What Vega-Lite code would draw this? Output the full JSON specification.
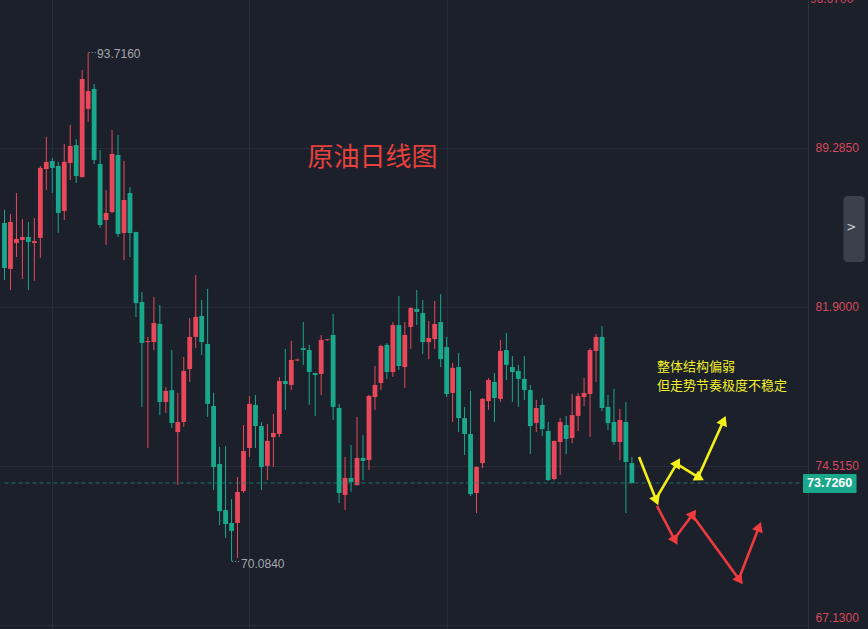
{
  "$schema": "https://vega.github.io/schema/vega-lite/v6.json",
  "width": 808,
  "height": 629,
  "autosize": {"type": "none"},
  "padding": {"left": 0, "top": 0, "right": 60, "bottom": 0},
  "background": "#1b202b",
  "config": {"view": {"stroke": null, "fill": "#1b202b"}},
  "datasets": {
    "candles": [
      {"i":0,"o":85.80,"h":86.41,"l":83.15,"c":83.71},
      {"i":1,"o":83.67,"h":86.22,"l":82.69,"c":85.85},
      {"i":2,"o":84.87,"h":87.19,"l":84.22,"c":85.06},
      {"i":3,"o":85.01,"h":85.99,"l":83.20,"c":85.15},
      {"i":4,"o":85.15,"h":85.85,"l":82.69,"c":84.92},
      {"i":5,"o":84.87,"h":86.03,"l":83.11,"c":84.96},
      {"i":6,"o":85.11,"h":88.45,"l":84.18,"c":88.36},
      {"i":7,"o":88.31,"h":89.80,"l":87.33,"c":88.64},
      {"i":8,"o":88.68,"h":88.82,"l":87.19,"c":88.36},
      {"i":9,"o":88.45,"h":88.64,"l":85.34,"c":86.27},
      {"i":10,"o":86.36,"h":89.47,"l":85.94,"c":88.64},
      {"i":11,"o":88.59,"h":90.35,"l":87.80,"c":89.38},
      {"i":12,"o":89.42,"h":89.70,"l":87.66,"c":87.98},
      {"i":13,"o":87.94,"h":92.91,"l":87.90,"c":92.49},
      {"i":14,"o":91.10,"h":93.716,"l":90.49,"c":91.93},
      {"i":15,"o":92.03,"h":92.26,"l":88.54,"c":88.73},
      {"i":16,"o":88.54,"h":89.19,"l":85.57,"c":85.71},
      {"i":17,"o":85.94,"h":87.33,"l":84.78,"c":86.27},
      {"i":18,"o":86.31,"h":90.12,"l":86.25,"c":89.01},
      {"i":19,"o":88.96,"h":89.89,"l":85.15,"c":85.29},
      {"i":20,"o":85.34,"h":88.68,"l":84.08,"c":86.87},
      {"i":21,"o":87.19,"h":87.47,"l":84.22,"c":85.34},
      {"i":22,"o":85.38,"h":85.40,"l":81.44,"c":82.08},
      {"i":23,"o":82.13,"h":82.60,"l":77.26,"c":80.23},
      {"i":24,"o":80.27,"h":80.51,"l":75.35,"c":80.32},
      {"i":25,"o":80.27,"h":82.36,"l":79.90,"c":81.16},
      {"i":26,"o":81.11,"h":81.99,"l":76.88,"c":77.49},
      {"i":27,"o":77.49,"h":78.18,"l":76.98,"c":78.00},
      {"i":28,"o":78.04,"h":79.90,"l":76.28,"c":76.51},
      {"i":29,"o":76.09,"h":77.91,"l":73.63,"c":76.56},
      {"i":30,"o":76.56,"h":79.58,"l":76.33,"c":78.93},
      {"i":31,"o":79.02,"h":81.39,"l":78.42,"c":80.51},
      {"i":32,"o":80.51,"h":83.39,"l":79.99,"c":81.44},
      {"i":33,"o":81.48,"h":82.23,"l":79.67,"c":80.27},
      {"i":34,"o":80.18,"h":82.74,"l":76.79,"c":77.40},
      {"i":35,"o":77.30,"h":77.91,"l":73.40,"c":74.47},
      {"i":36,"o":74.61,"h":75.40,"l":71.77,"c":72.42},
      {"i":37,"o":72.47,"h":75.44,"l":71.17,"c":71.82},
      {"i":38,"o":71.87,"h":72.98,"l":70.084,"c":71.50},
      {"i":39,"o":71.87,"h":74.00,"l":70.24,"c":73.31},
      {"i":40,"o":73.35,"h":76.42,"l":73.26,"c":75.21},
      {"i":41,"o":75.35,"h":77.77,"l":74.93,"c":77.40},
      {"i":42,"o":77.35,"h":77.81,"l":75.35,"c":76.37},
      {"i":43,"o":76.37,"h":76.56,"l":73.40,"c":74.47},
      {"i":44,"o":74.52,"h":76.47,"l":73.86,"c":75.68},
      {"i":45,"o":75.86,"h":76.93,"l":74.47,"c":76.05},
      {"i":46,"o":76.00,"h":78.65,"l":75.86,"c":78.46},
      {"i":47,"o":78.46,"h":79.95,"l":77.12,"c":78.32},
      {"i":48,"o":78.28,"h":80.32,"l":78.04,"c":79.44},
      {"i":49,"o":79.42,"h":79.50,"l":79.38,"c":79.46},
      {"i":50,"o":79.99,"h":81.20,"l":79.21,"c":79.90},
      {"i":51,"o":79.90,"h":80.14,"l":77.35,"c":78.88},
      {"i":52,"o":78.83,"h":78.83,"l":76.84,"c":78.74},
      {"i":53,"o":78.79,"h":80.60,"l":77.81,"c":80.37},
      {"i":54,"o":80.36,"h":80.42,"l":80.33,"c":80.40},
      {"i":55,"o":80.60,"h":81.57,"l":76.65,"c":77.26},
      {"i":56,"o":77.21,"h":77.40,"l":72.80,"c":73.26},
      {"i":57,"o":73.17,"h":74.93,"l":72.47,"c":73.96},
      {"i":58,"o":73.96,"h":75.49,"l":73.31,"c":73.77},
      {"i":59,"o":73.63,"h":76.79,"l":73.60,"c":74.89},
      {"i":60,"o":74.89,"h":75.96,"l":73.86,"c":74.75},
      {"i":61,"o":74.79,"h":77.81,"l":74.33,"c":77.77},
      {"i":62,"o":77.72,"h":79.16,"l":77.12,"c":78.28},
      {"i":63,"o":78.37,"h":80.14,"l":78.04,"c":80.09},
      {"i":64,"o":80.14,"h":80.23,"l":78.56,"c":78.88},
      {"i":65,"o":78.88,"h":81.20,"l":78.65,"c":81.06},
      {"i":66,"o":81.06,"h":82.41,"l":78.97,"c":79.16},
      {"i":67,"o":79.11,"h":81.20,"l":78.14,"c":80.60},
      {"i":68,"o":80.97,"h":81.90,"l":79.95,"c":81.85},
      {"i":69,"o":81.81,"h":82.69,"l":81.06,"c":81.67},
      {"i":70,"o":81.62,"h":82.23,"l":79.72,"c":80.27},
      {"i":71,"o":80.27,"h":81.25,"l":79.48,"c":80.46},
      {"i":72,"o":80.41,"h":82.18,"l":79.95,"c":81.11},
      {"i":73,"o":81.20,"h":82.50,"l":79.11,"c":79.48},
      {"i":74,"o":80.04,"h":80.51,"l":77.72,"c":77.86},
      {"i":75,"o":77.91,"h":79.30,"l":76.56,"c":79.07},
      {"i":76,"o":79.11,"h":79.76,"l":76.09,"c":76.74},
      {"i":77,"o":76.74,"h":77.26,"l":75.03,"c":76.00},
      {"i":78,"o":76.00,"h":78.00,"l":73.12,"c":73.21},
      {"i":79,"o":73.26,"h":74.50,"l":72.33,"c":74.47},
      {"i":80,"o":74.65,"h":77.67,"l":74.42,"c":77.63},
      {"i":81,"o":77.53,"h":78.60,"l":77.12,"c":78.51},
      {"i":82,"o":78.42,"h":78.83,"l":76.56,"c":77.67},
      {"i":83,"o":77.63,"h":80.37,"l":77.49,"c":79.86},
      {"i":84,"o":79.90,"h":80.69,"l":78.51,"c":79.21},
      {"i":85,"o":79.11,"h":79.62,"l":77.49,"c":78.88},
      {"i":86,"o":78.93,"h":79.21,"l":77.26,"c":78.56},
      {"i":87,"o":78.56,"h":79.62,"l":77.58,"c":78.04},
      {"i":88,"o":78.04,"h":78.28,"l":75.07,"c":76.37},
      {"i":89,"o":76.51,"h":77.58,"l":76.09,"c":77.21},
      {"i":90,"o":77.35,"h":77.67,"l":75.91,"c":76.23},
      {"i":91,"o":76.14,"h":76.56,"l":73.82,"c":73.86},
      {"i":92,"o":73.91,"h":75.70,"l":73.85,"c":75.68},
      {"i":93,"o":75.63,"h":76.74,"l":74.10,"c":76.56},
      {"i":94,"o":76.42,"h":76.84,"l":75.07,"c":75.77},
      {"i":95,"o":75.82,"h":77.86,"l":75.58,"c":76.88},
      {"i":96,"o":76.84,"h":77.91,"l":76.14,"c":77.77},
      {"i":97,"o":77.72,"h":78.60,"l":77.30,"c":77.91},
      {"i":98,"o":77.86,"h":79.99,"l":75.86,"c":79.90},
      {"i":99,"o":79.86,"h":80.65,"l":78.42,"c":80.51},
      {"i":100,"o":80.51,"h":81.02,"l":77.07,"c":77.21},
      {"i":101,"o":77.26,"h":77.81,"l":76.19,"c":76.51},
      {"i":102,"o":76.56,"h":78.09,"l":75.49,"c":75.63},
      {"i":103,"o":75.63,"h":77.16,"l":74.79,"c":76.65},
      {"i":104,"o":76.56,"h":77.49,"l":72.33,"c":74.70},
      {"i":105,"o":74.65,"h":74.93,"l":73.70,"c":73.726}
    ],
    "arrows": [
      {"g":"yellow","x0":106.2,"y0":74.93,"x1":109.0,"y1":72.98,"heading":158},
      {"g":"yellow","x0":109.0,"y0":72.98,"x1":112.5,"y1":74.61,"heading":31},
      {"g":"yellow","x0":112.5,"y0":74.61,"x1":116.1,"y1":74.0,"heading":119},
      {"g":"yellow","x0":116.1,"y0":74.0,"x1":120.25,"y1":76.56,"heading":24},
      {"g":"red","x0":109.2,"y0":72.66,"x1":112.1,"y1":71.12,"heading":151},
      {"g":"red","x0":112.1,"y0":71.12,"x1":115.1,"y1":72.24,"heading":37},
      {"g":"red","x0":115.1,"y0":72.24,"x1":122.9,"y1":69.27,"heading":144},
      {"g":"red","x0":122.9,"y0":69.27,"x1":126.2,"y1":71.63,"heading":21}
    ]
  },
  "layer": [
    {
      "data": {"name": "candles"},
      "mark": {"type": "rule", "strokeWidth": 1},
      "encoding": {
        "x": {"field": "i", "type": "quantitative", "title": null,
              "scale": {"domain": [0.083, 133.64], "nice": false, "zero": false},
              "axis": {"orient": "bottom", "values": [8, 41, 74], "grid": true, "gridColor": "#262c38", "gridWidth": 1, "labels": false, "ticks": false, "domain": false, "title": null}},
        "y": {"field": "l", "type": "quantitative", "title": null,
              "scale": {"domain": [66.944, 96.159], "nice": false, "zero": false},
              "axis": {"orient": "right", "values": [67.13, 74.515, 81.9, 89.285, 96.67], "format": ".4f", "grid": true, "gridColor": "#262c38", "gridWidth": 1, "ticks": false, "domain": true, "domainColor": "#2c323e", "labelFont": "Liberation Sans", "labelFontSize": 12, "labelPadding": 7, "labelFlush": 8, "labelOverlap": false, "labelColor": "#d8485a", "title": null,
                       "encode": {"labels": {"update": {"fill": {"signal": "datum.value < 70 ? '#c9ccd2' : datum.value < 78 ? '#1c8f7d' : '#d8485a'"}}}}}},
        "y2": {"field": "h"},
        "color": {"condition": {"test": "datum.c >= datum.o", "value": "#e8485a"}, "value": "#1aa88c"}
      }
    },
    {
      "data": {"name": "candles"},
      "mark": {"type": "bar", "orient": "vertical", "size": 4.8},
      "encoding": {
        "x": {"field": "i", "type": "quantitative", "title": null, "scale": {"domain": [0.083, 133.64], "nice": false, "zero": false}},
        "y": {"field": "o", "type": "quantitative", "title": null, "scale": {"domain": [66.944, 96.159], "nice": false, "zero": false}},
        "y2": {"field": "c"},
        "color": {"condition": {"test": "datum.c >= datum.o", "value": "#e8485a"}, "value": "#1aa88c"}
      }
    },
    {
      "data": {"values": [{"a": 0, "b": 133.64, "p": 73.726}]},
      "mark": {"type": "rule", "stroke": "#1f8a7a", "strokeWidth": 1, "strokeDash": [4, 3], "opacity": 0.8},
      "encoding": {
        "x": {"field": "a", "type": "quantitative", "title": null, "scale": {"domain": [0.083, 133.64], "nice": false, "zero": false}},
        "x2": {"field": "b"},
        "y": {"field": "p", "type": "quantitative", "title": null, "scale": {"domain": [66.944, 96.159], "nice": false, "zero": false}}
      }
    },
    {
      "data": {"values": [{"a": 14.1, "b": 15.4, "p": 93.716}, {"a": 38.1, "b": 39.4, "p": 70.084}]},
      "mark": {"type": "rule", "stroke": "#a3a7ae", "strokeWidth": 1, "strokeDash": [1, 2]},
      "encoding": {
        "x": {"field": "a", "type": "quantitative", "title": null, "scale": {"domain": [0.083, 133.64], "nice": false, "zero": false}},
        "x2": {"field": "b"},
        "y": {"field": "p", "type": "quantitative", "title": null, "scale": {"domain": [66.944, 96.159], "nice": false, "zero": false}}
      }
    },
    {
      "data": {"values": [{"x": 15.5, "y": 93.65, "t": "93.7160"}, {"x": 39.6, "y": 69.96, "t": "70.0840"}]},
      "mark": {"type": "text", "align": "left", "baseline": "middle", "font": "Liberation Sans", "fontSize": 12, "color": "#a3a7ae"},
      "encoding": {
        "x": {"field": "x", "type": "quantitative", "title": null, "scale": {"domain": [0.083, 133.64], "nice": false, "zero": false}},
        "y": {"field": "y", "type": "quantitative", "title": null, "scale": {"domain": [66.944, 96.159], "nice": false, "zero": false}},
        "text": {"field": "t"}
      }
    },
    {
      "data": {"values": [{"x": 134.8, "y": 96.2, "t": "96.6700"}]},
      "mark": {"type": "text", "align": "left", "baseline": "middle", "font": "Liberation Sans", "fontSize": 12, "color": "#d8485a"},
      "encoding": {
        "x": {"field": "x", "type": "quantitative", "title": null, "scale": {"domain": [0.083, 133.64], "nice": false, "zero": false}},
        "y": {"field": "y", "type": "quantitative", "title": null, "scale": {"domain": [66.944, 96.159], "nice": false, "zero": false}},
        "text": {"field": "t"}
      }
    },
    {
      "data": {"values": [{"x": 61.6, "y": 88.8, "t": "原油日线图"}]},
      "mark": {"type": "text", "align": "center", "baseline": "middle", "font": "Noto Sans CJK SC", "fontSize": 26, "color": "#e8403c"},
      "encoding": {
        "x": {"field": "x", "type": "quantitative", "title": null, "scale": {"domain": [0.083, 133.64], "nice": false, "zero": false}},
        "y": {"field": "y", "type": "quantitative", "title": null, "scale": {"domain": [66.944, 96.159], "nice": false, "zero": false}},
        "text": {"field": "t"}
      }
    },
    {
      "data": {"values": [{"x": 109.2, "y": 79.11, "t": "整体结构偏弱"}, {"x": 109.2, "y": 78.23, "t": "但走势节奏极度不稳定"}]},
      "mark": {"type": "text", "align": "left", "baseline": "middle", "font": "Noto Sans CJK SC", "fontSize": 13, "color": "#f2ee2a"},
      "encoding": {
        "x": {"field": "x", "type": "quantitative", "title": null, "scale": {"domain": [0.083, 133.64], "nice": false, "zero": false}},
        "y": {"field": "y", "type": "quantitative", "title": null, "scale": {"domain": [66.944, 96.159], "nice": false, "zero": false}},
        "text": {"field": "t"}
      }
    },
    {
      "data": {"name": "arrows"},
      "mark": {"type": "rule", "strokeWidth": 2.6},
      "encoding": {
        "x": {"field": "x0", "type": "quantitative", "title": null, "scale": {"domain": [0.083, 133.64], "nice": false, "zero": false}},
        "x2": {"field": "x1"},
        "y": {"field": "y0", "type": "quantitative", "title": null, "scale": {"domain": [66.944, 96.159], "nice": false, "zero": false}},
        "y2": {"field": "y1"},
        "color": {"field": "g", "type": "nominal", "scale": {"domain": ["yellow", "red"], "range": ["#f5ef1a", "#ee3b3e"]}, "legend": null}
      }
    },
    {
      "data": {"name": "arrows"},
      "mark": {"type": "point", "shape": "triangle", "filled": true, "size": 130, "opacity": 1},
      "encoding": {
        "x": {"field": "x1", "type": "quantitative", "title": null, "scale": {"domain": [0.083, 133.64], "nice": false, "zero": false}},
        "y": {"field": "y1", "type": "quantitative", "title": null, "scale": {"domain": [66.944, 96.159], "nice": false, "zero": false}},
        "angle": {"field": "heading", "type": "quantitative", "scale": null},
        "color": {"field": "g", "type": "nominal", "scale": {"domain": ["yellow", "red"], "range": ["#f5ef1a", "#ee3b3e"]}, "legend": null}
      }
    },
    {
      "data": {"values": [{"a": 133.64, "b": 142.6, "lo": 73.26, "hi": 74.14}]},
      "mark": {"type": "rect", "color": "#1aa88c", "cornerRadius": 1},
      "encoding": {
        "x": {"field": "a", "type": "quantitative", "title": null, "scale": {"domain": [0.083, 133.64], "nice": false, "zero": false}},
        "x2": {"field": "b"},
        "y": {"field": "lo", "type": "quantitative", "title": null, "scale": {"domain": [66.944, 96.159], "nice": false, "zero": false}},
        "y2": {"field": "hi"}
      }
    },
    {
      "data": {"values": [{"x": 138.1, "y": 73.726, "t": "73.7260"}]},
      "mark": {"type": "text", "align": "center", "baseline": "middle", "font": "Liberation Sans", "fontSize": 12.5, "fontWeight": "bold", "color": "#ffffff"},
      "encoding": {
        "x": {"field": "x", "type": "quantitative", "title": null, "scale": {"domain": [0.083, 133.64], "nice": false, "zero": false}},
        "y": {"field": "y", "type": "quantitative", "title": null, "scale": {"domain": [66.944, 96.159], "nice": false, "zero": false}},
        "text": {"field": "t"}
      }
    },
    {
      "data": {"values": [{"a": 140.4, "b": 144, "lo": 83.99, "hi": 87.06}]},
      "mark": {"type": "rect", "color": "#3a404c", "cornerRadius": 4},
      "encoding": {
        "x": {"field": "a", "type": "quantitative", "title": null, "scale": {"domain": [0.083, 133.64], "nice": false, "zero": false}},
        "x2": {"field": "b"},
        "y": {"field": "lo", "type": "quantitative", "title": null, "scale": {"domain": [66.944, 96.159], "nice": false, "zero": false}},
        "y2": {"field": "hi"}
      }
    },
    {
      "data": {"values": [{"x": 141.7, "y": 85.6, "t": ">"}]},
      "mark": {"type": "text", "align": "center", "baseline": "middle", "font": "DejaVu Sans", "fontSize": 12, "color": "#d0d3d9"},
      "encoding": {
        "x": {"field": "x", "type": "quantitative", "title": null, "scale": {"domain": [0.083, 133.64], "nice": false, "zero": false}},
        "y": {"field": "y", "type": "quantitative", "title": null, "scale": {"domain": [66.944, 96.159], "nice": false, "zero": false}},
        "text": {"field": "t"}
      }
    }
  ]
}
